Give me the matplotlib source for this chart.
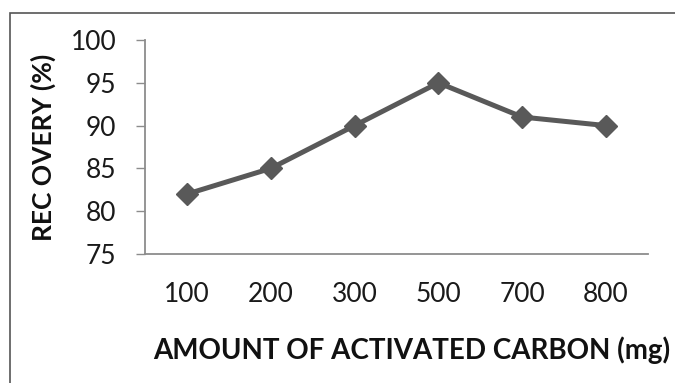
import matplotlib.pyplot as plt
from matplotlib.patches import Rectangle

# amount of activated carbon (mg) and recovery (%)
amounts = ['100', '200', '300', '500', '700', '800']
recovery = [82, 85, 90, 95, 91, 90]
y_ticks = [75, 80, 85, 90, 95, 100]

W, H = 675, 383
fig = plt.figure(figsize=(W / 100, H / 100), dpi=100)
plt.rcParams['font.family'] = ['Lato', 'DejaVu Sans']

# chart frame
fig.patches.append(Rectangle((10 / W, -0.1), 1.2, 1.1 - 13.5 / H,
                             transform=fig.transFigure, fill=False,
                             edgecolor='#555555', linewidth=1.2))

ax = fig.add_axes([145 / W, 1 - 254 / H, 503 / W, 214 / H])

x = range(len(amounts))
ax.plot(x, recovery, color='#595959', linewidth=3.6, marker='D',
        markersize=11, markerfacecolor='#595959', markeredgecolor='#595959')

ax.set_xlim(-0.5, len(amounts) - 0.5)
ax.set_ylim(75, 100)
ax.set_xticks(list(x))
ax.set_xticklabels(amounts)
ax.set_yticks(y_ticks)

for side in ['top', 'right']:
    ax.spines[side].set_visible(False)
for side in ['left', 'bottom']:
    ax.spines[side].set_color('#8c8c8c')
    ax.spines[side].set_linewidth(1.3)

ax.tick_params(axis='y', direction='out', length=6.5, width=1.0,
               color='#8c8c8c', labelsize=19, pad=14, labelcolor='#1a1a1a')
ax.tick_params(axis='x', length=0, labelsize=19, pad=20, labelcolor='#1a1a1a')

ax.set_ylabel('REC OVERY (%)', fontsize=19, fontweight='bold', color='#111111')
ax.yaxis.set_label_coords(-0.177, 0.5)
ax.set_xlabel('AMOUNT OF ACTIVATED CARBON (mg)', fontsize=20,
              fontweight='bold', color='#111111')
ax.xaxis.set_label_coords(0.53, -0.385)

fig.savefig('out.png', dpi=100)
